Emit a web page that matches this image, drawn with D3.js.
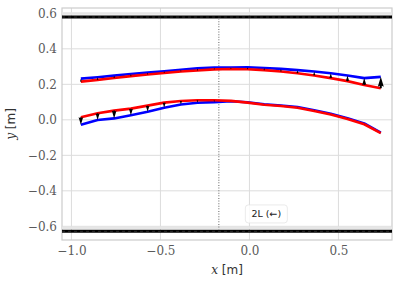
<!DOCTYPE html>
<html>
<head>
<meta charset="utf-8">
<script src="https://cdn.jsdelivr.net/npm/d3@7"></script>
<style>
  body { margin: 0; background: #fff; }
  #box-div { width: 398px; height: 286px; }
  .tick text { font-family: 'DejaVu Serif', serif; font-size: 12px; fill: #5a5a5a; }
</style>
</head>
<body>
<div id="box-div"></div>
<script>
// - data
const xs = [-0.947, -0.853, -0.760, -0.666, -0.572, -0.479, -0.385, -0.292, -0.198, -0.104,
  -0.011, 0.083, 0.177, 0.270, 0.364, 0.457, 0.551, 0.645, 0.738]
const upperBlue = [0.232, 0.240, 0.249, 0.258, 0.266, 0.274, 0.282, 0.290, 0.294, 0.295,
  0.296, 0.292, 0.287, 0.280, 0.272, 0.262, 0.250, 0.235, 0.242]
const upperRed = [0.215, 0.225, 0.236, 0.246, 0.255, 0.264, 0.272, 0.278, 0.284, 0.286,
  0.285, 0.280, 0.272, 0.262, 0.250, 0.235, 0.218, 0.196, 0.178]
const lowerBlue = [-0.028, -0.001, 0.008, 0.026, 0.046, 0.068, 0.086, 0.096, 0.100, 0.105,
  0.099, 0.088, 0.081, 0.072, 0.054, 0.034, 0.009, -0.020, -0.072]
const lowerRed = [0.015, 0.037, 0.052, 0.063, 0.080, 0.097, 0.106, 0.110, 0.110, 0.107,
  0.097, 0.085, 0.078, 0.068, 0.050, 0.030, 0.005, -0.025, -0.075]
const walls = [0.579, -0.628]
const sensorX = -0.172
const xTicks = [-1.0, -0.5, 0.0, 0.5]
const yTicks = [-0.6, -0.4, -0.2, 0.0, 0.2, 0.4, 0.6]
const labelText = '2L (←)'

const dms = {
  width: 398,
  height: 286,
  margin: { top: 8, right: 6, bottom: 46, left: 62 }
}
const contentWidth = dms.width - dms.margin.left - dms.margin.right
const contentHeight = dms.height - dms.margin.top - dms.margin.bottom

const svg = d3.select('#box-div')
  .append('svg')
  .attr('width', dms.width)
  .attr('height', dms.height)

const content = svg.append('g')
  .attr('transform', `translate(${dms.margin.left},${dms.margin.top})`)

const xScale = d3.scaleLinear().domain([-1.053, 0.801]).range([0, contentWidth])
const yScale = d3.scaleLinear().domain([-0.677, 0.630]).range([contentHeight, 0])

// grid
content.append('g')
  .selectAll('line')
  .data(xTicks)
  .join('line')
  .attr('x1', d => xScale(d)).attr('x2', d => xScale(d))
  .attr('y1', 0).attr('y2', contentHeight)
  .attr('stroke', '#dcdcdc').attr('stroke-width', 1)
content.append('g')
  .selectAll('line')
  .data(yTicks)
  .join('line')
  .attr('y1', d => yScale(d)).attr('y2', d => yScale(d))
  .attr('x1', 0).attr('x2', contentWidth)
  .attr('stroke', '#dcdcdc').attr('stroke-width', 1)

// axes (labels only, no tick marks)
const fmt = d => d3.format('.1f')(d).replace('-', '−')
const xAxis = content.append('g')
  .attr('transform', `translate(0,${contentHeight})`)
  .call(d3.axisBottom(xScale).tickValues(xTicks).tickSize(0).tickPadding(6).tickFormat(fmt))
xAxis.select('.domain').remove()
const yAxis = content.append('g')
  .call(d3.axisLeft(yScale).tickValues(yTicks).tickSize(0).tickPadding(5).tickFormat(fmt))
yAxis.select('.domain').remove()

// frame
content.append('rect')
  .attr('width', contentWidth).attr('height', contentHeight)
  .attr('fill', 'none').attr('stroke', '#cccccc').attr('stroke-width', 1.2)

// walls
walls.forEach(w => {
  content.append('line')
    .attr('x1', 0).attr('x2', contentWidth)
    .attr('y1', yScale(w) - 3.6).attr('y2', yScale(w) - 3.6)
    .attr('stroke', '#e6e6e6').attr('stroke-width', 2.6)
  content.append('line')
    .attr('x1', 0).attr('x2', contentWidth)
    .attr('y1', yScale(w)).attr('y2', yScale(w))
    .attr('stroke', '#000').attr('stroke-width', 3)
  content.append('line')
    .attr('x1', 0).attr('x2', contentWidth)
    .attr('y1', yScale(w)).attr('y2', yScale(w))
    .attr('stroke', '#2a2a2a').attr('stroke-width', 1)
    .attr('stroke-dasharray', '3,3')
})

// sensor line
content.append('line')
  .attr('x1', xScale(sensorX)).attr('x2', xScale(sensorX))
  .attr('y1', yScale(walls[0]) + 1.5).attr('y2', yScale(walls[1]) - 1.5)
  .attr('stroke', '#888').attr('stroke-width', 1.3)
  .attr('stroke-dasharray', '1,1.6')

// curves
const lineGenerator = d3.line()
  .x(d => xScale(d[0]))
  .y(d => yScale(d[1]))
const series = [
  [upperBlue, '#0000ff'],
  [lowerBlue, '#0000ff'],
  [upperRed, '#ff0000'],
  [lowerRed, '#ff0000'],
]
series.forEach(([vals, color]) => {
  content.append('path')
    .attr('d', lineGenerator(xs.map((x, i) => [x, vals[i]])))
    .attr('fill', 'none')
    .attr('stroke', color)
    .attr('stroke-width', 2.6)
    .attr('stroke-linejoin', 'round')
})

// arrows red -> blue (quiver-like)
function arrowPath(px, y0, y1) {
  const w = 2, hl = 5 * w, hal = 4.5 * w, hw = 3 * w
  const L = Math.abs(y1 - y0)
  if (L < 0.3) return ''
  const dir = y1 > y0 ? 1 : -1
  let len = L, s = 1
  if (L < hl) { len = hl; s = L / hl }
  const pts = [
    [0, -w / 2], [len - hal, -w / 2], [len - hl, -hw / 2], [len, 0],
    [len - hl, hw / 2], [len - hal, w / 2], [0, w / 2]
  ]
  return 'M' + pts.map(([a, p]) => `${px + p * s},${y0 + dir * a * s}`).join('L') + 'Z'
}
const arrows = content.append('g')
const pairs = [[upperRed, upperBlue], [lowerRed, lowerBlue]]
pairs.forEach(([from, to]) => {
  arrows.append('g')
    .selectAll('path')
    .data(xs.map((x, i) => ({ x, a: from[i], b: to[i] })))
    .join('path')
    .attr('d', d => arrowPath(xScale(d.x), yScale(d.a), yScale(d.b)))
    .attr('fill', '#000')
})

// label box
const lx = xScale(0.095), ly = yScale(-0.53)
const label = content.append('g')
label.append('rect')
  .attr('x', lx - 21).attr('y', ly - 9)
  .attr('width', 42).attr('height', 18)
  .attr('rx', 3)
  .attr('fill', '#fff').attr('fill-opacity', 0.85)
  .attr('stroke', '#e4e4e4').attr('stroke-width', 0.8)
label.append('text')
  .attr('x', lx).attr('y', ly)
  .attr('text-anchor', 'middle')
  .attr('dominant-baseline', 'central')
  .style('font-family', 'DejaVu Sans, sans-serif')
  .style('font-size', '9.5px')
  .attr('fill', '#222')
  .text(labelText)

// axis titles
const xTitle = svg.append('text')
  .attr('x', dms.margin.left + contentWidth / 2)
  .attr('y', 274)
  .attr('text-anchor', 'middle')
  .attr('fill', '#333')
  .style('font-size', '12px')
xTitle.append('tspan').style('font-family', 'DejaVu Serif, serif').style('font-style', 'italic').text('x')
xTitle.append('tspan').style('font-family', 'DejaVu Sans, sans-serif').text(' [m]')

const yTitle = svg.append('text')
  .attr('transform', `translate(15,${dms.margin.top + contentHeight / 2}) rotate(-90)`)
  .attr('text-anchor', 'middle')
  .attr('fill', '#333')
  .style('font-size', '12px')
yTitle.append('tspan').style('font-family', 'DejaVu Serif, serif').style('font-style', 'italic').text('y')
yTitle.append('tspan').style('font-family', 'DejaVu Sans, sans-serif').text(' [m]')
</script>
</body>
</html>
